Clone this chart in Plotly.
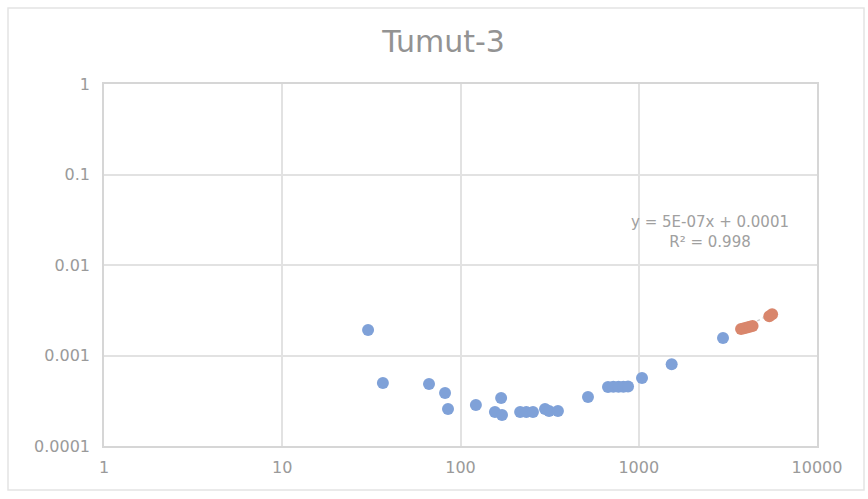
import plotly.graph_objects as go

# Measured points (x, y) - lower range in blue
blue_x = [30.3, 36.7, 66.6, 81.9, 85.1, 122, 156, 169, 171, 216, 234, 255,
          298, 314, 352, 519, 672, 720, 770, 820, 871, 1043, 1530, 2970]
blue_y = [0.00191, 0.000497, 0.000484, 0.000385, 0.000256, 0.000284, 0.000238,
          0.000339, 0.000220, 0.000238, 0.000238, 0.000238, 0.000256, 0.000243,
          0.000243, 0.000348, 0.000449, 0.000452, 0.000452, 0.000452, 0.000455,
          0.000564, 0.000800, 0.00156]

# Upper range in orange, fitted with a linear trend
orange_x = [3750, 3900, 4050, 4200, 4350, 5400, 5600]
orange_y = [0.00196, 0.00200, 0.00204, 0.00208, 0.00212, 0.00272, 0.00285]

trend_slope = 5e-07
trend_intercept = 0.0001
trend_label = "y = 5E-07x + 0.0001<br>R² = 0.998"

x_ticks = [1, 10, 100, 1000, 10000]
x_tick_text = ["1", "10", "100", "1000", "10000"]
y_ticks = [0.0001, 0.001, 0.01, 0.1, 1]
y_tick_text = ["0.0001", "0.001", "0.01", "0.1", "1"]

FONT = "DejaVu Sans"
TXT = "#9a9a9a"
GRID = "#e2e2e2"

trend_x = [min(orange_x), max(orange_x)]
trend_y = [trend_slope * v + trend_intercept for v in trend_x]

fig = go.Figure()
fig.add_trace(go.Scatter(
    x=trend_x, y=trend_y, mode="lines",
    line=dict(color="#cfcfcf", width=1.5, dash="dot"),
    hoverinfo="skip", showlegend=False))
fig.add_trace(go.Scatter(
    x=blue_x, y=blue_y, mode="markers",
    marker=dict(size=12, color="#7fa1d8", line=dict(width=0)),
    showlegend=False))
fig.add_trace(go.Scatter(
    x=orange_x, y=orange_y, mode="markers",
    marker=dict(size=12, color="#d9866c", line=dict(width=0)),
    showlegend=False))

fig.add_annotation(
    x=3.40, y=-1.635, xref="x", yref="y", text=trend_label, showarrow=False,
    font=dict(family=FONT, size=15, color="#a0a0a0"), align="center")

fig.update_layout(
    width=868, height=499,
    margin=dict(l=104, r=51, t=84, b=53),
    paper_bgcolor="white", plot_bgcolor="white",
    title=dict(text="Tumut-3", x=0.511, xanchor="center", y=0.917, yanchor="middle",
               font=dict(family=FONT, size=30, color="#939393")),
    font=dict(family=FONT, color=TXT),
    xaxis=dict(type="log", range=[0, 4], tickvals=x_ticks, ticktext=x_tick_text,
               showgrid=True, gridcolor=GRID, gridwidth=1.5, zeroline=False,
               showline=True, linecolor="#d6d6d6", linewidth=1.5, mirror=True,
               ticks="", tickfont=dict(family=FONT, size=16, color=TXT), ticklabelstandoff=6),
    yaxis=dict(type="log", range=[-4, 0], tickvals=y_ticks, ticktext=y_tick_text,
               showgrid=True, gridcolor=GRID, gridwidth=1.5, zeroline=False,
               showline=True, linecolor="#d6d6d6", linewidth=1.5, mirror=True,
               ticks="", tickfont=dict(family=FONT, size=16, color=TXT), ticklabelstandoff=9),
    shapes=[dict(type="rect", xref="paper", yref="paper",
                 x0=-96 / 713, x1=1 + 47 / 713, y0=-44 / 362, y1=1 + 76 / 362,
                 line=dict(color="#e4e4e4", width=1.5), layer="below")],
)

fig.write_html("out.html")
